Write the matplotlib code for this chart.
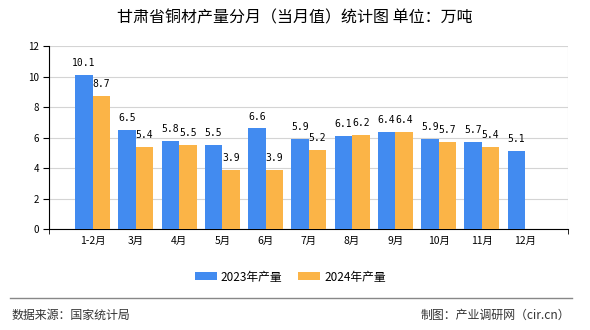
import matplotlib.pyplot as plt
import numpy as np

plt.rcParams['font.family'] = ['Noto Sans CJK SC', 'DejaVu Sans']

months = ["1-2月", "3月", "4月", "5月", "6月", "7月", "8月", "9月", "10月", "11月", "12月"]
output_2023 = [10.1, 6.5, 5.8, 5.5, 6.6, 5.9, 6.1, 6.4, 5.9, 5.7, 5.1]
output_2024 = [8.7, 5.4, 5.5, 3.9, 3.9, 5.2, 6.2, 6.4, 5.7, 5.4]

blue = "#428bf0"
orange = "#fbb447"

fig = plt.figure(figsize=(5.9, 3.3), dpi=100)
ax = fig.add_axes([49.3 / 590, 1 - 229.3 / 330, 519 / 590, 183.3 / 330])

x = np.arange(len(months))
w = 0.405
b1 = ax.bar(x[:len(output_2023)] - w / 2, output_2023, w, color=blue, label="2023年产量", zorder=3)
b2 = ax.bar(x[:len(output_2024)] + w / 2, output_2024, w, color=orange, label="2024年产量", zorder=3)

for bars, vals in ((b1, output_2023), (b2, output_2024)):
    for r, v in zip(bars, vals):
        ax.annotate(f"{v:.1f}", (r.get_x() + r.get_width() / 2, v), xytext=(0, 5),
                    textcoords="offset points", ha="center", va="bottom",
                    fontsize=7, family="DejaVu Sans Mono", zorder=4)

ax.set_xlim(-1, 11)
ax.set_ylim(0, 12)
ax.set_yticks(range(0, 13, 2))
ax.set_xticks(x)
ax.set_xticklabels(months, fontsize=7.5)
ax.set_xticks(np.arange(-1, 12), minor=True)
ax.tick_params(axis="x", which="major", length=0, pad=5)
ax.tick_params(axis="x", which="minor", length=3.5, color="black")
ax.tick_params(axis="y", labelsize=7, length=4.3, pad=3)
ax.grid(True, which="minor", axis="x", color="#d4d4d4", lw=0.8, zorder=0)
ax.grid(True, axis="y", color="#d4d4d4", lw=0.8, zorder=0)
for s in ("top", "right"):
    ax.spines[s].set_visible(False)
ax.spines["left"].set_color("black")
ax.spines["bottom"].set_color("black")

fig.legend(handles=[b1, b2], loc="center", bbox_to_anchor=(0.492, 1 - 277 / 330), ncol=2,
           frameon=False, fontsize=8.5, handlelength=1.86, handleheight=0.68,
           columnspacing=1.36, handletextpad=0.34, borderaxespad=0, borderpad=0)

fig.text(0.5, 1 - 18 / 330, "甘肃省铜材产量分月（当月值）统计图 单位：万吨",
         ha="center", va="center", fontsize=11.5)

fig.add_artist(plt.Line2D([10 / 590, 572 / 590], [1 - 297.7 / 330] * 2, color="#888888", lw=1))
fig.text(12 / 590, 1 - 315 / 330, "数据来源：国家统计局", ha="left", va="center",
         fontsize=8.6, color="#333333")
fig.text(570 / 590, 1 - 315 / 330, "制图：产业调研网（cir.cn）", ha="right", va="center",
         fontsize=8.6, color="#333333")

fig.savefig("out.png", dpi=100)
